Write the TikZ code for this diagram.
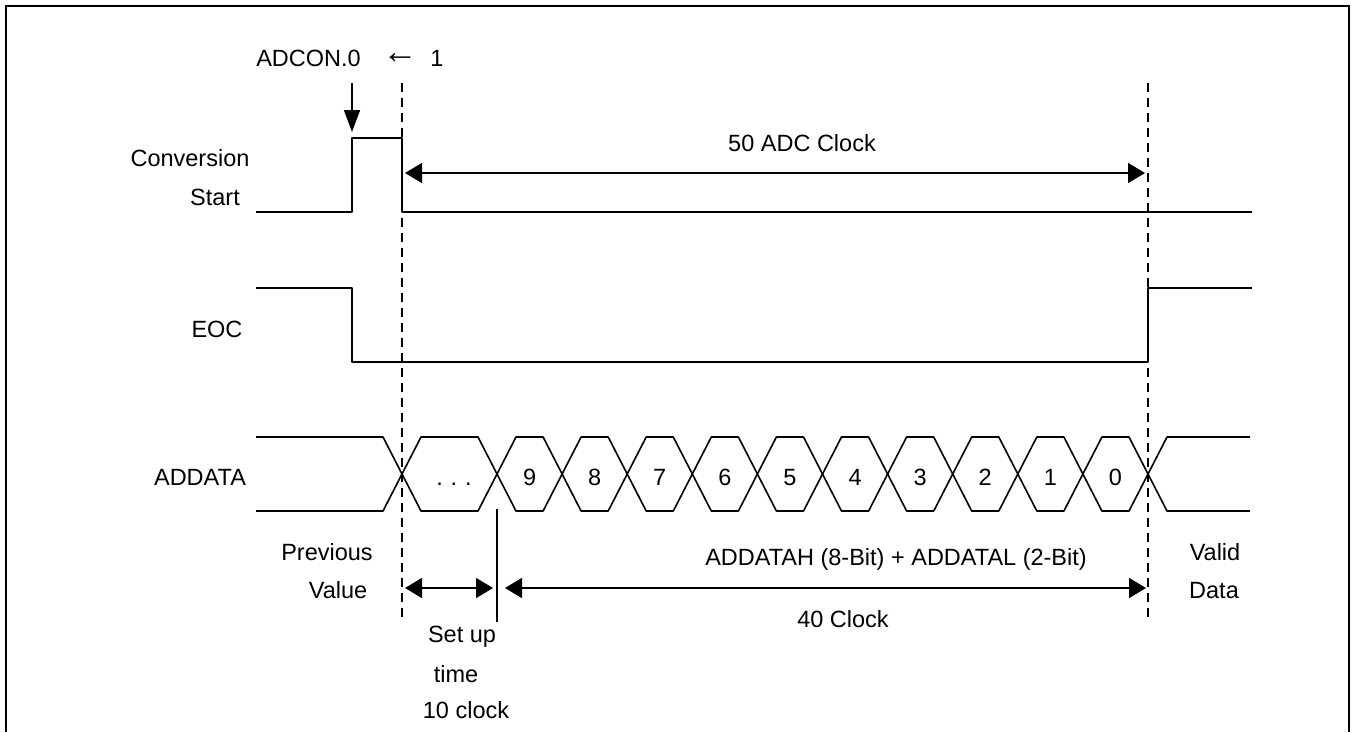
\documentclass[tikz,border=0pt]{standalone}
\usepackage{fontspec}
\setmainfont{Liberation Sans}
\usetikzlibrary{arrows.meta}
\begin{document}
\begin{tikzpicture}[x=1pt,y=-1pt,
  sig/.style={line width=1.6pt, line join=round},
  guide/.style={line width=1.4pt, dash pattern=on 9pt off 6pt},
  dim/.style={line width=1.6pt, {Triangle[length=17pt,width=20pt]}-{Triangle[length=17pt,width=20pt]}},
  pointer/.style={line width=1.6pt, -{Triangle[length=22pt,width=16pt]}},
  lbl/.style={font=\fontsize{23.5}{28}\selectfont, inner sep=0pt, anchor=base},
  frame/.style={line width=2.4pt}]
\useasboundingbox (0,0) rectangle (1354,732);
% frame (open at the bottom)
\draw[frame] (6,732) -- (6,6) -- (1349,6) -- (1349,732);

% guide coordinates
\coordinate (g1top) at (402,83);
\coordinate (g1bot) at (402,622);
\coordinate (g2top) at (1148,83);
\coordinate (g2bot) at (1148,622);
\draw[guide] (g1top) -- (g1bot);
\draw[guide] (g2top) -- (g2bot);

% top labels
\node[lbl] (adcon) at (308.5,66) {ADCON.0};
\node[lbl] (larrow) at (400,63) {\scalebox{1.5}{←}};
\node[lbl] (one) at (437,66) {1};
\coordinate (ptrA) at (352,83);
\coordinate (ptrB) at (352,132);
\draw[pointer] (ptrA) -- (ptrB);

% signal names
\node[lbl] (conv) at (190,166.5) {Conversion};
\node[lbl] (start) at (215,205.5) {Start};
\node[lbl] (eoc) at (217,337) {EOC};
\node[lbl] (addata) at (200,485) {ADDATA};

% Conversion Start waveform
\draw[sig] (256,212) -- (352,212) -- (352,138) -- (402,138) -- (402,212) -- (1252,212);
% EOC waveform
\draw[sig] (256,288) -- (352,288) -- (352,362) -- (1148,362) -- (1148,288) -- (1252,288);

% ADDATA waveform
\def\T{437}\def\B{511}\def\M{474}\def\h{19}
\draw[sig] (256,\T) -- (383,\T) -- (402,\M) -- (383,\B) -- (256,\B);
\draw[sig] (402,\M) -- (421,\T) -- (478,\T) -- (497,\M) -- (478,\B) -- (421,\B) -- cycle;
\node[lbl] (dots) at (454,485) {.\,\,.\,\,.};
\foreach \k in {0,...,9} {
  \pgfmathsetmacro{\a}{497+65.1*\k}
  \pgfmathsetmacro{\b}{\a+65.1}
  \pgfmathtruncatemacro{\d}{9-\k}
  \draw[sig] (\a,\M) -- (\a+\h,\T) -- (\b-\h,\T) -- (\b,\M) -- (\b-\h,\B) -- (\a+\h,\B) -- cycle;
  \node[lbl] (bit\d) at ({(\a+\b)/2},485) {\d};
}
\draw[sig] (1250,\T) -- (1167,\T) -- (1148,\M) -- (1167,\B) -- (1250,\B);

% 50 ADC clock span
\coordinate (s50a) at (402,173);
\coordinate (s50b) at (1148,173);
\draw[dim, shorten <=3pt, shorten >=3pt] (s50a) -- (s50b);
\node[lbl] (t50) at (802,151) {50 ADC Clock};

% setup marker line
\coordinate (setTop) at (497,509);
\coordinate (setBot) at (497,622);
\draw[line width=1.4pt] (setTop) -- (setBot);

% setup time span
\coordinate (su1) at (402,588);
\coordinate (su2) at (497,588);
\draw[dim, shorten <=3pt, shorten >=4pt] (su1) -- (su2);
% 40 clock span
\coordinate (c40a) at (497,588);
\coordinate (c40b) at (1148,588);
\draw[dim, shorten <=8pt, shorten >=2pt] (c40a) -- (c40b);

% lower labels
\node[lbl] (prev) at (327,560) {Previous};
\node[lbl] (value) at (338,598) {Value};
\node[lbl] (setup) at (462,642) {Set up};
\node[lbl] (time) at (456,682) {time};
\node[lbl] (tenclk) at (466,718) {10 clock};
\node[lbl] (valid) at (1215,560) {Valid};
\node[lbl] (data) at (1214,598) {Data};
\node[lbl] (addatah) at (896,565) {ADDATAH (8-Bit) + ADDATAL (2-Bit)};
\node[lbl] (forty) at (843,627) {40 Clock};
\end{tikzpicture}
\end{document}
